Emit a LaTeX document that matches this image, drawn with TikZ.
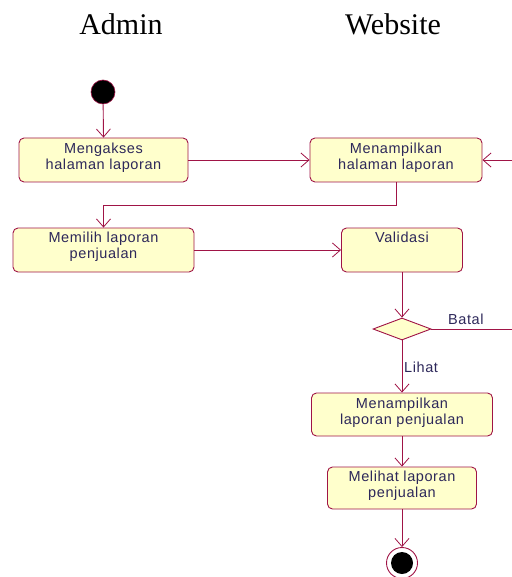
\documentclass[tikz,border=0pt]{standalone}
\usepackage{fontspec}
\setmainfont{Liberation Sans}[LetterSpace=4]
\newfontfamily\titlefont{Liberation Serif}
\usetikzlibrary{arrows.meta,shapes.geometric}
\definecolor{bord}{RGB}{160,20,70}
\definecolor{yel}{RGB}{255,255,204}
\definecolor{txt}{RGB}{45,40,90}
\tikzset{
  actbox/.style={draw=bord, fill=yel, rounded corners=5pt, line width=0.9pt, inner sep=0pt},
  boxtext/.style={anchor=north, inner sep=0pt, text=txt, align=center, font=\fontsize{14.5}{16}\selectfont},
  flow/.style={draw=bord, line width=0.9pt, -{Straight Barb[length=8pt,width=14pt,line width=0.8pt]}},
  plain/.style={draw=bord, line width=0.9pt},
  lbl/.style={text=txt, font=\fontsize{14.5}{16}\selectfont, inner sep=0pt},
  ttl/.style={font=\titlefont\fontsize{30}{32}\selectfont, anchor=base, inner sep=0pt}
}
\begin{document}
\begin{tikzpicture}[x=1pt,y=-1pt]
\useasboundingbox (0,0) rectangle (511,577);
\node[ttl] (tadmin) at (121,35) {Admin};
\node[ttl] (tweb) at (393,35) {Website};

\node[circle, fill=black, draw=bord, line width=0.6pt, minimum size=24pt, inner sep=0pt] (start) at (103,92) {};

\node[actbox, minimum width=169pt, minimum height=44pt,
  label={[boxtext, yshift=-5pt]north:Mengakses\\halaman laporan}] (b1) at (103.5,160) {};
\node[actbox, minimum width=172pt, minimum height=44pt,
  label={[boxtext, yshift=-5pt]north:Menampilkan\\halaman laporan}] (b2) at (396,160) {};
\node[actbox, minimum width=181pt, minimum height=44pt,
  label={[boxtext, yshift=-4pt]north:Memilih laporan\\penjualan}] (b3) at (103.5,250) {};
\node[actbox, minimum width=121pt, minimum height=44pt,
  label={[boxtext, yshift=-4pt]north:Validasi}] (b4) at (402,250) {};
\node[diamond, draw=bord, fill=yel, line width=0.9pt, minimum width=58pt, minimum height=22pt, aspect=2.6, inner sep=0pt] (dia) at (402,329) {};
\node[actbox, minimum width=181pt, minimum height=43pt,
  label={[boxtext, yshift=-5pt]north:Menampilkan\\laporan penjualan}] (b5) at (402,414.5) {};
\node[actbox, minimum width=149pt, minimum height=42pt,
  label={[boxtext, yshift=-4pt]north:Melihat laporan\\penjualan}] (b6) at (402,488) {};

\node[circle, draw=bord, fill=white, line width=0.9pt, minimum size=31pt, inner sep=0pt] (fin) at (402,563) {};
\node[circle, fill=black, minimum size=22pt, inner sep=0pt] (finin) at (fin.center) {};

\coordinate (rback) at (530,160);
\coordinate (rout) at (530,329);

\draw[flow] (start) -- (b1.north);
\draw[flow] (b1.east) -- (b2.west);
\draw[flow] (rback) -- (b2.east);
\draw[flow] (b2.south) -- ++(0,23) -| (b3.north);
\draw[flow] (b3.east) -- (b4.west);
\draw[flow] (b4.south) -- (dia.north);
\draw[plain] (dia.east) -- (rout) -- (rback);
\node[lbl, anchor=base west] (batal) at (448,324) {Batal};
\draw[flow] (dia.south) -- (b5.north);
\node[lbl, anchor=base west] (lihat) at (404,372) {Lihat};
\draw[flow] (b5.south) -- (b6.north);
\draw[flow] (b6.south) -- (fin.north);
\end{tikzpicture}
\end{document}
